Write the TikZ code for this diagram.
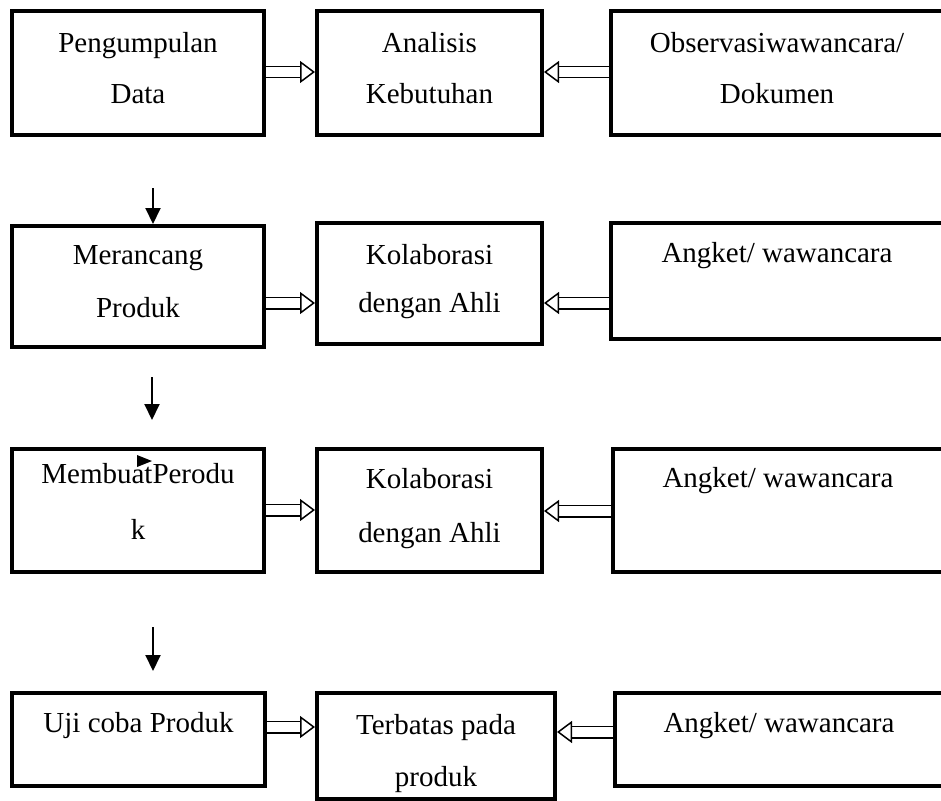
\documentclass[tikz,border=0pt]{standalone}
\usepackage{fontspec}
\setmainfont{Liberation Serif}
\usepackage{tikz}
\usetikzlibrary{arrows.meta}

\begin{document}
\begin{tikzpicture}[x=.02cm, y=-.02cm,
		box/.style={draw, line width=.08cm, align=center, inner sep=0pt,
			font=\fontsize{16.5}{20}\selectfont},
		hollow/.style={draw, line width=.03cm, double, double distance=.2cm,
			-{Triangle[open, length=.3cm, width=.44cm]}},
		down/.style={line width=.04cm, -{Triangle[length=.32cm, width=.3cm]}}]
				\clip (0,0) rectangle (941,801);
				\node[box, minimum width=252*.02cm, minimum height=124*.02cm, text depth=.2cm] (pengumpulan) at (138,73) {Pengumpulan\\[.3cm]Data};
				\node[box, minimum width=225*.02cm, minimum height=124*.02cm, text depth=.2cm] (analisis) at (429.5,73) {Analisis\\[.3cm]Kebutuhan};
				\node[box, minimum width=332*.02cm, minimum height=124*.02cm, text depth=.2cm] (observasi) at (777,73) {Observasiwawancara/\\[.3cm]Dokumen};
				\node[box, minimum width=252*.02cm, minimum height=121*.02cm, text depth=.2cm] (merancang) at (138,286.5) {Merancang\\[.34cm]Produk};
				\node[box, minimum width=225*.02cm, minimum height=121*.02cm, text depth=.2cm] (kolab1) at (429.5,283.5) {Kolaborasi\\[.24cm]dengan Ahli};
				\node[box, minimum width=332*.02cm, minimum height=116*.02cm] (angket1) at (777,281) {Angket/ wawancara\\[.42cm]~};
				\node[box, minimum width=252*.02cm, minimum height=123*.02cm, text depth=.36cm] (membuat) at (138,510.5) {MembuatPerodu\\[.4cm]k};
				\node[box, minimum width=225*.02cm, minimum height=123*.02cm, text depth=.2cm] (kolab2) at (429.5,510.5) {Kolaborasi\\[.36cm]dengan Ahli};
				\node[box, minimum width=330*.02cm, minimum height=123*.02cm] (angket2) at (778,510.5) {Angket/ wawancara\\[.6cm]~};
				\node[box, minimum width=253*.02cm, minimum height=93*.02cm] (ujicoba) at (138.5,739.5) {Uji coba Produk\\[-.04cm]~};
				\node[box, minimum width=238*.02cm, minimum height=106*.02cm] (terbatas) at (436,746) {\rule{0pt}{.7cm}Terbatas pada\\[.34cm]produk};
				\node[box, minimum width=328*.02cm, minimum height=93*.02cm] (angket3) at (779,739.5) {Angket/ wawancara\\[-.04cm]~};
				\draw[hollow] (pengumpulan.east |- 0,72) -- (analisis.west |- 0,72);
				\draw[hollow] (observasi.west |- 0,72) -- (analisis.east |- 0,72);
				\draw[hollow] (merancang.east |- 0,303) -- (kolab1.west |- 0,303);
				\draw[hollow] (angket1.west |- 0,303) -- (kolab1.east |- 0,303);
				\draw[hollow] (membuat.east |- 0,510) -- (kolab2.west |- 0,510);
				\draw[hollow] (angket2.west |- 0,511) -- (kolab2.east |- 0,511);
				\draw[hollow] (ujicoba.east |- 0,727) -- (terbatas.west |- 0,727);
				\draw[hollow] (angket3.west |- 0,732) -- (terbatas.east |- 0,732);
				\coordinate (v1) at (153,188);
				\coordinate (v2) at (152,377);
				\coordinate (w2) at (152,420);
				\coordinate (v3) at (153,627);
				\coordinate (w3) at (153,671);
				\draw[down] (v1) -- (v1 |- merancang.north);
				\draw[down] (v2) -- (w2);
				\draw[down] (v3) -- (w3);
				\fill (137,455) -- (152,461) -- (137,467) -- cycle;
			\end{tikzpicture}
\end{document}
